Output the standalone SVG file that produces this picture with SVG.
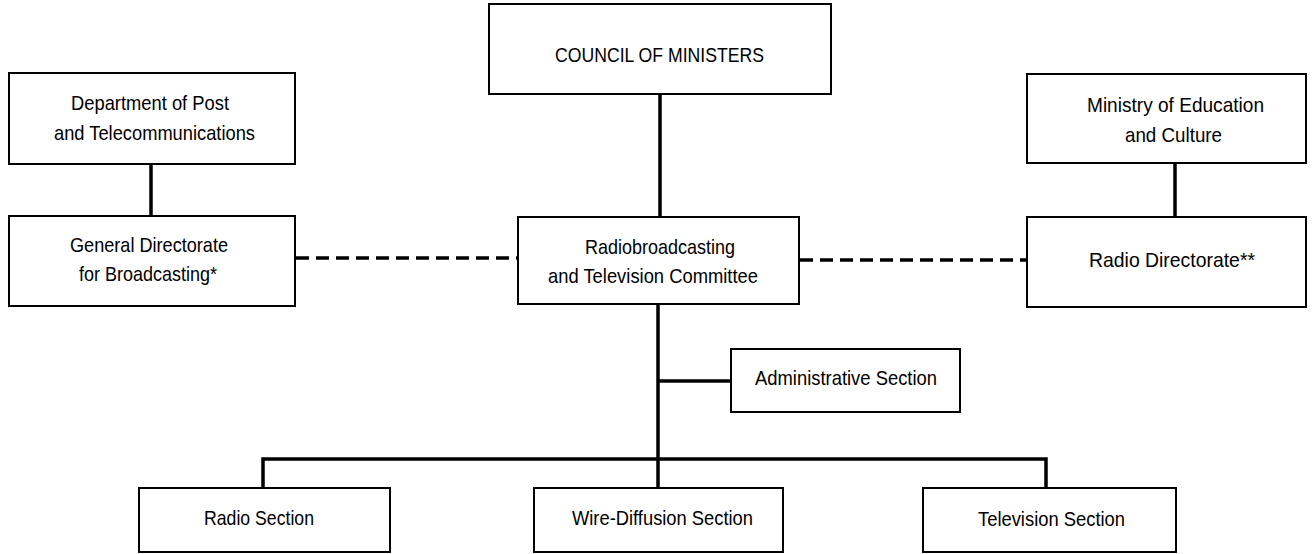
<svg xmlns="http://www.w3.org/2000/svg" width="1312" height="554" viewBox="0 0 1312 554">
<style>
.box{fill:#fff;stroke:#000;stroke-width:2}
.t{font-family:"Liberation Sans",Arial,sans-serif;font-size:21px;fill:#000}
.ln{stroke:#000;stroke-width:3.5;fill:none}
.ds{stroke:#000;stroke-width:3.5;fill:none;stroke-dasharray:13 7}
</style>
<rect width="1312" height="554" fill="#fff"/>
<g id="connectors">
<line class="ln" x1="660" y1="94" x2="660" y2="217"/>
<line class="ln" x1="151" y1="164" x2="151" y2="216"/>
<line class="ln" x1="1175" y1="163" x2="1175" y2="217"/>
<line class="ds" x1="296" y1="258" x2="517" y2="258"/>
<line class="ds" x1="800" y1="260" x2="1026" y2="260"/>
<line class="ln" x1="658" y1="304" x2="658" y2="488"/>
<line class="ln" x1="658" y1="381" x2="731" y2="381"/>
<polyline class="ln" points="263,488 263,459 1046,459 1046,488"/>
</g>
<g id="council">
<rect class="box" x="489" y="4" width="342" height="90"/>
<text class="t" x="555" y="62" textLength="209" lengthAdjust="spacingAndGlyphs">COUNCIL OF MINISTERS</text>
</g>
<g id="dept-post">
<rect class="box" x="9" y="73" width="286" height="91"/>
<text class="t" x="71" y="110" textLength="158" lengthAdjust="spacingAndGlyphs">Department of Post</text>
<text class="t" x="54" y="140" textLength="201" lengthAdjust="spacingAndGlyphs">and Telecommunications</text>
</g>
<g id="general-directorate">
<rect class="box" x="9" y="216" width="286" height="90"/>
<text class="t" x="70" y="252" textLength="158" lengthAdjust="spacingAndGlyphs">General Directorate</text>
<text class="t" x="79" y="281" textLength="138" lengthAdjust="spacingAndGlyphs">for Broadcasting*</text>
</g>
<g id="committee">
<rect class="box" x="518" y="217" width="281" height="87"/>
<text class="t" x="585" y="254" textLength="150" lengthAdjust="spacingAndGlyphs">Radiobroadcasting</text>
<text class="t" x="548" y="283" textLength="210" lengthAdjust="spacingAndGlyphs">and Television Committee</text>
</g>
<g id="ministry">
<rect class="box" x="1027" y="74" width="279" height="89"/>
<text class="t" x="1087" y="112" textLength="177" lengthAdjust="spacingAndGlyphs">Ministry of Education</text>
<text class="t" x="1125" y="142" textLength="97" lengthAdjust="spacingAndGlyphs">and Culture</text>
</g>
<g id="radio-directorate">
<rect class="box" x="1027" y="217" width="279" height="90"/>
<text class="t" x="1089" y="267" textLength="166" lengthAdjust="spacingAndGlyphs">Radio Directorate**</text>
</g>
<g id="administrative">
<rect class="box" x="731" y="349" width="229" height="63"/>
<text class="t" x="755" y="385" textLength="182" lengthAdjust="spacingAndGlyphs">Administrative Section</text>
</g>
<g id="radio-section">
<rect class="box" x="139" y="488" width="251" height="64"/>
<text class="t" x="204" y="525" textLength="110" lengthAdjust="spacingAndGlyphs">Radio Section</text>
</g>
<g id="wire-section">
<rect class="box" x="534" y="488" width="249" height="64"/>
<text class="t" x="572" y="525" textLength="181" lengthAdjust="spacingAndGlyphs">Wire-Diffusion Section</text>
</g>
<g id="tv-section">
<rect class="box" x="923" y="488" width="253" height="64"/>
<text class="t" x="978" y="526" textLength="147" lengthAdjust="spacingAndGlyphs">Television Section</text>
</g>
</svg>
